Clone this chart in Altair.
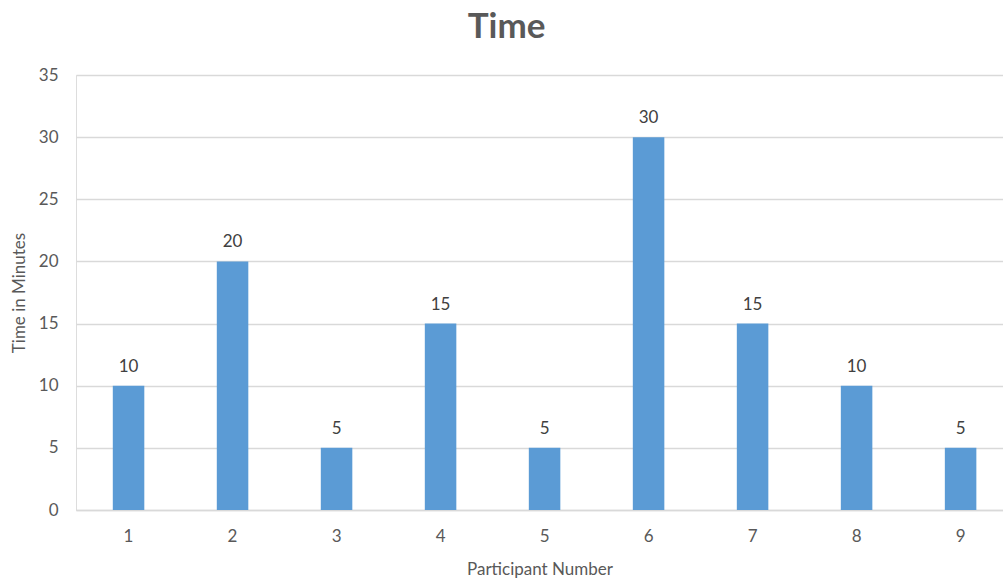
import altair as alt
import pandas as pd

participants = ["1", "2", "3", "4", "5", "6", "7", "8", "9"]
minutes = [10, 20, 5, 15, 5, 30, 15, 10, 5]

df = pd.DataFrame({"participant": participants, "minutes": minutes})

FONT = "Lato"
GREY = "#595959"

x_enc = alt.X(
    "participant:N",
    sort=participants,
    title="Participant Number",
    scale=alt.Scale(paddingInner=0.697, paddingOuter=0.305, align=0.58),
    axis=alt.Axis(
        labelAngle=0,
        labelFontSize=17,
        labelColor=GREY,
        labelFont=FONT,
        labelPadding=18,
        ticks=False,
        domain=True,
        domainColor="#d9d9d9",
        domainWidth=1.5,
        titleFontSize=17,
        titleFont=FONT,
        titleColor=GREY,
        titleFontWeight="normal",
        titlePadding=17,
        grid=False,
    ),
)

y_enc = alt.Y(
    "minutes:Q",
    title="Time in Minutes",
    scale=alt.Scale(domain=[0, 35], nice=False),
    axis=alt.Axis(
        values=[0, 5, 10, 15, 20, 25, 30, 35],
        labelFontSize=17,
        labelColor=GREY,
        labelFont=FONT,
        labelPadding=18,
        ticks=False,
        domain=False,
        grid=True,
        gridColor="#d9d9d9",
        gridWidth=1.5,
        titleFontSize=17,
        titleFont=FONT,
        titleColor=GREY,
        titleFontWeight="normal",
        titlePadding=10,
    ),
)

bars = alt.Chart(df).mark_bar(color="#5b9bd5").encode(x=x_enc, y=y_enc)

labels = alt.Chart(df).mark_text(
    baseline="bottom", dy=-10, fontSize=17, font=FONT, color="#404040"
).encode(x=alt.X("participant:N", sort=participants), y="minutes:Q", text="minutes:Q")

chart = (
    alt.layer(bars, labels)
    .properties(
        width=927,
        height=435,
        title=alt.TitleParams(
            "Time",
            fontSize=35,
            font=FONT,
            fontWeight="bold",
            color=GREY,
            anchor="middle",
            frame="bounds",
            offset=21,
        ),
        autosize=alt.AutoSizeParams(type="none"),
        padding={"left": 76, "top": 75, "right": 0, "bottom": 74},
    )
    .configure_view(stroke=None)
    .configure(background="white")
)

chart.save("out.html", embed_options={"renderer": "svg", "actions": False})
